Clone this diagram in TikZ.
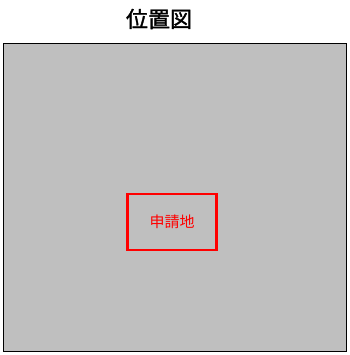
\documentclass[tikz,border=0pt]{standalone}
\usepackage{fontspec}
\newfontfamily\cjk{Noto Sans CJK JP}
\newfontfamily\cjkb{Noto Sans CJK JP}[FakeBold=1.5]
\tikzset{
  mapbox/.style={draw=black, line width=1.6pt, fill=black!25},
  sitebox/.style={draw=red, line width=2.6pt, text=red, font=\cjk\fontsize{15}{15}\selectfont, inner sep=0pt},
  titletext/.style={font=\cjkb\fontsize{22}{22}\selectfont, inner sep=0pt}
}
\begin{document}
\begin{tikzpicture}[x=1pt,y=1pt]
\useasboundingbox (0,0) rectangle (349,355);
\node[titletext] (title) at (159,336) {位置図};
\node[mapbox, minimum width=343pt, minimum height=308pt, inner sep=0pt] (map) at (175,157.5) {};
\node[sitebox, minimum width=89pt, minimum height=56pt] (site) at (172,133) {申請地};
\end{tikzpicture}
\end{document}
